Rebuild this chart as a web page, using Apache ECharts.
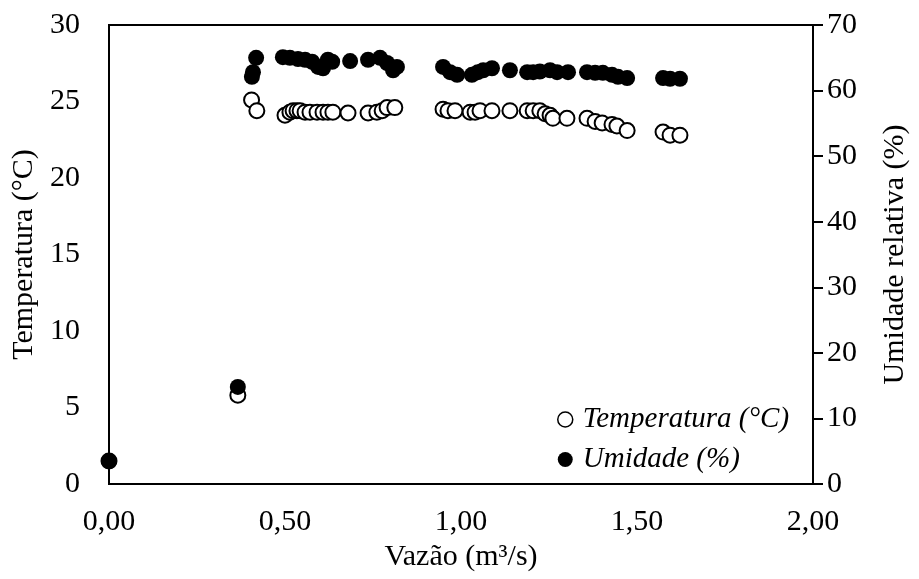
<!DOCTYPE html>
<html>
<head>
<meta charset="utf-8">
<script src="https://cdn.jsdelivr.net/npm/echarts@6/dist/echarts.min.js"></script>
<style>
    html, body { margin: 0; padding: 0; background: #fff; }
    #chart { width: 919px; height: 579px; }
</style>
</head>
<body>
<div id="chart"></div>
<script>
// vazão (m3/s) e temperatura (°C)
const tempX = [0.00, 0.366, 0.405, 0.42, 0.50, 0.514, 0.523, 0.534, 0.543, 0.557, 0.571, 0.591, 0.608, 0.622, 0.636,
    0.679, 0.736, 0.761, 0.776, 0.790, 0.812, 0.949, 0.963, 0.983, 1.026, 1.040, 1.054, 1.088, 1.139, 1.188,
    1.205, 1.224, 1.239, 1.253, 1.261, 1.301, 1.358, 1.381, 1.401, 1.429, 1.443, 1.472, 1.574, 1.594, 1.622]
const tempY = [1.5, 5.8, 25.1, 24.4, 24.1, 24.3, 24.4, 24.4, 24.4, 24.3, 24.3, 24.3, 24.3, 24.3, 24.3,
    24.25, 24.25, 24.3, 24.4, 24.6, 24.6, 24.5, 24.4, 24.4, 24.3, 24.3, 24.4, 24.4, 24.4, 24.4,
    24.4, 24.4, 24.2, 24.1, 23.9, 23.9, 23.9, 23.7, 23.6, 23.5, 23.4, 23.1, 23.0, 22.8, 22.8]

// vazão (m3/s) e umidade relativa (%)
const umidX = [0.00, 0.366, 0.406, 0.409, 0.418, 0.494, 0.514, 0.537, 0.557, 0.577, 0.594, 0.608, 0.622, 0.634,
    0.685, 0.736, 0.770, 0.790, 0.807, 0.818, 0.949, 0.969, 0.989, 1.031, 1.048, 1.063, 1.088, 1.139, 1.188,
    1.205, 1.224, 1.253, 1.273, 1.304, 1.358, 1.381, 1.403, 1.429, 1.446, 1.472, 1.574, 1.594, 1.622]
const umidY = [3.5, 14.8, 62.1, 62.8, 65.0, 65.1, 65.0, 64.8, 64.7, 64.4, 63.6, 63.4, 64.7, 64.4,
    64.5, 64.7, 65.0, 64.2, 63.1, 63.6, 63.6, 62.8, 62.4, 62.4, 62.8, 63.1, 63.4, 63.1, 62.8,
    62.8, 62.9, 63.1, 62.8, 62.8, 62.8, 62.7, 62.7, 62.4, 62.1, 61.9, 61.9, 61.8, 61.8]

const serif = 'Liberation Serif'

const chart = echarts.init(document.getElementById('chart'))
chart.setOption({
    animation: false,
    grid: {
        left: 109, right: 106, top: 25, bottom: 95,
        show: true, borderColor: '#000', borderWidth: 2
    },
    legend: {
        orient: 'vertical',
        left: 552, top: 400,
        itemWidth: 15, itemHeight: 15, itemGap: 11,
        textStyle: { fontFamily: serif, fontSize: 29, fontStyle: 'italic', color: '#000', padding: [0, 0, 0, 5] },
        data: [
            { name: 'Temperatura (°C)', icon: 'circle', itemStyle: { color: '#fff', borderColor: '#000', borderWidth: 1.5 } },
            { name: 'Umidade (%)', icon: 'circle', itemStyle: { color: '#000' } }
        ]
    },
    xAxis: {
        type: 'value', min: 0, max: 2, interval: 0.5,
        name: 'Vazão (m³/s)', nameLocation: 'middle', nameGap: 56,
        nameTextStyle: { fontFamily: serif, fontSize: 30, color: '#000' },
        axisLine: { lineStyle: { color: '#000', width: 2 } },
        axisTick: { show: false },
        splitLine: { show: false },
        axisLabel: {
            fontFamily: serif, fontSize: 30, color: '#000', margin: 23,
            formatter: v => v.toFixed(2).replace('.', ',')
        }
    },
    yAxis: [
        {
            type: 'value', min: 0, max: 30, interval: 5,
            name: 'Temperatura (°C)', nameLocation: 'middle', nameGap: 67, nameRotate: 90,
            nameTextStyle: { fontFamily: serif, fontSize: 30, color: '#000' },
            axisLine: { show: true, lineStyle: { color: '#000', width: 2 } },
            axisTick: { show: false },
            splitLine: { show: false },
            axisLabel: { fontFamily: serif, fontSize: 30, color: '#000', margin: 29 }
        },
        {
            type: 'value', min: 0, max: 70, interval: 10, position: 'right',
            name: 'Umidade relativa (%)', nameLocation: 'middle', nameGap: 67, nameRotate: 90,
            nameTextStyle: { fontFamily: serif, fontSize: 30, color: '#000' },
            axisLine: { show: true, lineStyle: { color: '#000', width: 2 } },
            axisTick: { show: true, length: 10, lineStyle: { color: '#000', width: 2 } },
            splitLine: { show: false },
            axisLabel: { fontFamily: serif, fontSize: 30, color: '#000', margin: 14 }
        }
    ],
    series: [
        {
            name: 'Temperatura (°C)', type: 'scatter', yAxisIndex: 0,
            symbol: 'circle', symbolSize: 15,
            itemStyle: { color: '#fff', borderColor: '#000', borderWidth: 2, opacity: 1 },
            data: tempX.map((x, i) => [x, tempY[i]]),
            z: 2
        },
        {
            name: 'Umidade (%)', type: 'scatter', yAxisIndex: 1,
            symbol: 'circle', symbolSize: 16,
            itemStyle: { color: '#000', opacity: 1 },
            data: umidX.map((x, i) => [x, umidY[i]]),
            z: 3
        }
    ]
})
</script>
</body>
</html>
